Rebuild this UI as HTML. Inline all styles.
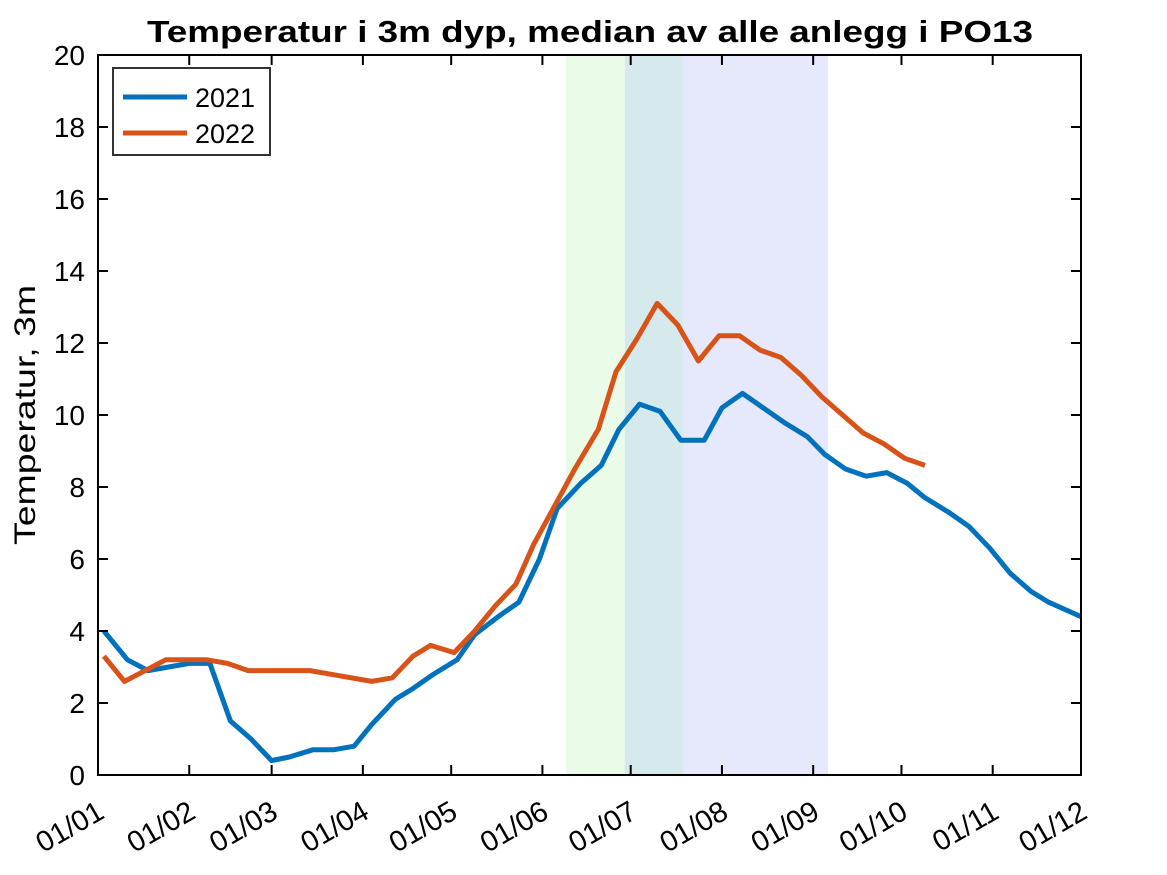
<!DOCTYPE html>
<html><head><meta charset="utf-8"><style>
body{margin:0;background:#fff;}
svg{display:block;font-family:"Liberation Sans",Arial,sans-serif;}
</style></head><body>
<svg id="chart" width="1167" height="875"></svg>
<script>
const tickDays=[0,31,59,90,120,151,181,212,243,273,304,334];
const tickLabels=["01/01","01/02","01/03","01/04","01/05","01/06","01/07","01/08","01/09","01/10","01/11","01/12"];
const yTicks=[0,2,4,6,8,10,12,14,16,18,20];
const shadeStart=[159,179,199];
const shadeEnd=[179,199,248];
const shadeColors=["#eafbe8","#d6eaee","#e6e8fb"];
const days2021=[2,10,17,31,38,45,52,59,65,73,80,87,93,101,107,114,122,128,136,143,150,156,164,171,177,184,191,198,206,212,219,226,233,241,247,254,261,268,275,281,289,296,303,310,317,323,334];
const temp2021=[4.0,3.2,2.9,3.1,3.1,1.5,1.0,0.4,0.5,0.7,0.7,0.8,1.4,2.1,2.4,2.8,3.2,3.9,4.4,4.8,6.0,7.4,8.1,8.6,9.6,10.3,10.1,9.3,9.3,10.2,10.6,10.2,9.8,9.4,8.9,8.5,8.3,8.4,8.1,7.7,7.3,6.9,6.3,5.6,5.1,4.8,4.4];
const days2022=[2,9,16,23,37,44,51,58,72,79,93,100,107,113,121,128,135,142,148,156,162,170,176,183,190,197,204,211,218,225,232,239,246,253,260,267,274,281];
const temp2022=[3.3,2.6,2.9,3.2,3.2,3.1,2.9,2.9,2.9,2.8,2.6,2.7,3.3,3.6,3.4,4.0,4.7,5.3,6.4,7.6,8.5,9.6,11.2,12.1,13.1,12.5,11.5,12.2,12.2,11.8,11.6,11.1,10.5,10.0,9.5,9.2,8.8,8.6];

const L=98,R=1081,T=55,B=775;
const xs=d=>L+(d-0)/(334-0)*(R-L);
const ys=v=>B-(v-0)/(20-0)*(B-T);
const NS="http://www.w3.org/2000/svg";
const svg=document.getElementById('chart');
function mk(tag,attrs,parent){const e=document.createElementNS(NS,tag);for(const k in attrs)e.setAttribute(k,attrs[k]);(parent||svg).appendChild(e);return e;}

shadeStart.forEach((s,i)=>{
  const r=mk('rect',{x:xs(s),y:T,width:xs(shadeEnd[i])-xs(s),height:B-T,fill:shadeColors[i]});
  
  
});

function line(days,vals,color,name){
  const p=mk('polyline',{points:days.map((d,i)=>xs(d)+','+ys(vals[i])).join(' '),fill:'none',stroke:color,'stroke-width':5,'stroke-linejoin':'round'});
  
  
}
line(days2021,temp2021,'#0072bd','series-2021');
line(days2022,temp2022,'#d95319','series-2022');

const box=mk('rect',{x:L,y:T,width:R-L,height:B-T,fill:'none',stroke:'#000','stroke-width':2});



yTicks.forEach(v=>{
  const y=ys(v);
  mk('line',{x1:L,x2:L+10,y1:y,y2:y,stroke:'#000','stroke-width':2});
  mk('line',{x1:R,x2:R-10,y1:y,y2:y,stroke:'#000','stroke-width':2});
  const t=mk('text',{x:L-13,y:y+10,'text-anchor':'end','font-size':28});
  t.textContent=v;
  
  
});
tickDays.forEach((d,i)=>{
  const x=xs(d);
  mk('line',{x1:x,x2:x,y1:B,y2:B-10,stroke:'#000','stroke-width':2});
  mk('line',{x1:x,x2:x,y1:T,y2:T+10,stroke:'#000','stroke-width':2});
  const t=mk('text',{x:x+8,y:B+42,'text-anchor':'end','font-size':29,transform:`rotate(-30 ${x+8} ${B+42})`});
  t.textContent=tickLabels[i];
  
  
});

const title=mk('text',{x:590,y:42,'text-anchor':'middle','font-size':31,'font-weight':'bold',textLength:886,lengthAdjust:'spacingAndGlyphs'});
title.textContent='Temperatur i 3m dyp, median av alle anlegg i PO13';



const yl=mk('text',{x:0,y:0,'text-anchor':'middle','font-size':30,textLength:260,lengthAdjust:'spacingAndGlyphs',transform:'translate(35 415) rotate(-90)'});
yl.textContent='Temperatur, 3m';



const lg=mk('g',{});


mk('rect',{x:113,y:68,width:157,height:87,fill:'#fff',stroke:'#333','stroke-width':2},lg);
[['2021','#0072bd',97],['2022','#d95319',133]].forEach(([lab,c,y])=>{
  const e=mk('g',{},lg);
  
  
  mk('line',{x1:123,x2:187,y1:y,y2:y,stroke:c,'stroke-width':5},e);
  const t=mk('text',{x:195,y:y+10,'font-size':27},e);
  t.textContent=lab;
});
</script>
</body></html>
